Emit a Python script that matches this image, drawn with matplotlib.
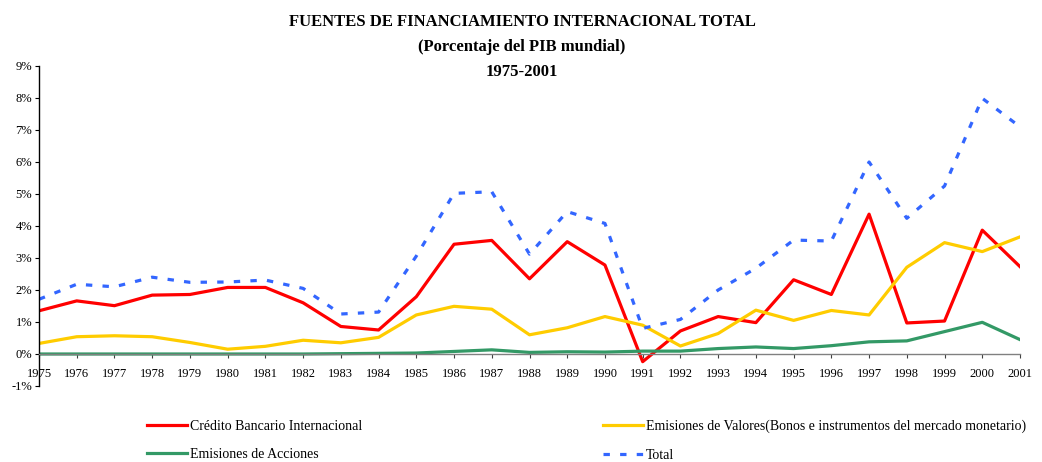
import matplotlib
matplotlib.use("Agg")
import matplotlib.pyplot as plt
from matplotlib.ticker import FuncFormatter

years = list(range(1975, 2002))
credito = [1.35, 1.66, 1.51, 1.84, 1.86, 2.08, 2.08, 1.60, 0.86, 0.75,
           1.79, 3.43, 3.55, 2.35, 3.51, 2.78, -0.24, 0.72, 1.17, 0.98,
           2.32, 1.86, 4.37, 0.97, 1.03, 3.87, 2.73]
valores = [0.33, 0.54, 0.57, 0.54, 0.36, 0.15, 0.24, 0.43, 0.35, 0.52,
           1.22, 1.49, 1.40, 0.60, 0.82, 1.17, 0.90, 0.25, 0.64, 1.37,
           1.05, 1.36, 1.22, 2.71, 3.48, 3.20, 3.66]
acciones = [0.0, 0.0, 0.0, 0.0, 0.0, 0.0, 0.0, 0.0, 0.01, 0.02,
            0.03, 0.08, 0.13, 0.05, 0.07, 0.06, 0.09, 0.09, 0.17, 0.22,
            0.17, 0.26, 0.38, 0.41, 0.70, 0.99, 0.45]
total = [1.71, 2.18, 2.10, 2.40, 2.24, 2.25, 2.31, 2.05, 1.25, 1.31,
         3.06, 5.02, 5.07, 3.12, 4.45, 4.08, 0.80, 1.08, 2.00, 2.68,
         3.56, 3.53, 6.00, 4.24, 5.25, 7.99, 7.10]

labels = ["Crédito Bancario Internacional",
          "Emisiones de Valores(Bonos e instrumentos del mercado monetario)",
          "Emisiones de Acciones",
          "Total"]
titles = ["FUENTES DE FINANCIAMIENTO INTERNACIONAL TOTAL",
          "(Porcentaje del PIB mundial)",
          "1975-2001"]

plt.rcParams['font.family'] = ['Liberation Serif', 'DejaVu Serif']

fig = plt.figure(figsize=(10.42, 4.62), dpi=100)
ax = fig.add_axes([39/1042, 1-386/462, (1020-39)/1042, (386-66)/462])

l1, = ax.plot(years, credito, color='#FF0000', lw=2.3)
l2, = ax.plot(years, valores, color='#FFCC00', lw=2.3)
l3, = ax.plot(years, acciones, color='#339966', lw=2.3)
l4, = ax.plot(years, total, color='#3366FF', lw=2.3, linestyle=(0, (2.0, 3.2)))

ax.set_xlim(1975, 2001)
ax.set_ylim(-1, 9)
ax.set_yticks(range(-1, 10))
ax.yaxis.set_major_formatter(FuncFormatter(lambda v, p: f"{int(v)}%"))
ax.set_xticks(years)
ax.set_xticklabels([str(y) for y in years])

for s in ['top', 'right']:
    ax.spines[s].set_visible(False)
ax.spines['bottom'].set_position(('data', 0))
ax.spines['bottom'].set_color('#808080')
ax.spines['bottom'].set_linewidth(1.0)
ax.spines['left'].set_linewidth(1.0)
ax.tick_params(axis='y', direction='out', length=3, labelsize=9, pad=2)
ax.tick_params(axis='x', direction='out', length=3, labelsize=9, pad=7,
               color='#404040')
ax.set_zorder(1)

for t, yc in zip(titles, [22, 47, 72]):
    fig.text(522/1042, 1-yc/462, t, ha='center', va='center',
             fontsize=12, fontweight='bold')

kw = dict(frameon=False, fontsize=10, handlelength=2.9, handletextpad=0.2,
          labelspacing=1.1, borderpad=0, borderaxespad=0, loc='upper left')
leg1 = fig.legend([l1, l3], [labels[0], labels[2]],
                  bbox_to_anchor=(147/1042, 1-420/462), **kw)
leg2 = fig.legend([l2, l4], [labels[1], labels[3]],
                  bbox_to_anchor=(603/1042, 1-420/462), **kw)

fig.savefig("out.png", dpi=100)
